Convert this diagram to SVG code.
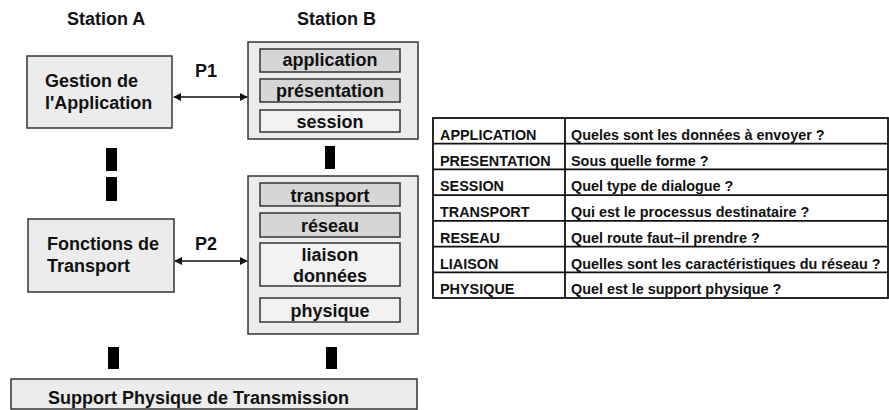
<svg xmlns="http://www.w3.org/2000/svg" width="889" height="410" viewBox="0 0 889 410">
  <style>
    text { font-family: "Liberation Sans", Arial, sans-serif; font-weight: bold; fill: #111; }
    .title { font-size: 18px; }
    .lbl { font-size: 18px; }
    .mid { text-anchor: middle; }
    .tbl { font-size: 14.4px; }
    .box { fill: #ececec; stroke: #333; stroke-width: 1.5; }
    .layer-dark { fill: #d6d6d6; stroke: #333; stroke-width: 1.5; }
    .layer-light { fill: #f2f2f2; stroke: #333; stroke-width: 1.5; }
    .bar { fill: #000; }
    .arrow { stroke: #111; stroke-width: 1.5; fill: none; marker-start: url(#head); marker-end: url(#head); }
    .rule { stroke: #111; stroke-width: 1.8; }
  </style>
  <defs>
    <marker id="head" viewBox="0 0 10 10" refX="9" refY="5" markerWidth="8" markerHeight="8" markerUnits="userSpaceOnUse" orient="auto-start-reverse">
      <path d="M0,0 L10,5 L0,10 z" fill="#111"/>
    </marker>
  </defs>
  <rect width="889" height="410" fill="#fff"/>

  <!-- column headings -->
  <text class="title" x="67" y="25">Station A</text>
  <text class="title" x="297" y="25">Station B</text>

  <!-- Station A, upper layers -->
  <g id="gestion">
    <rect class="box" x="27" y="56" width="145" height="72"/>
    <text class="lbl" x="45" y="87">Gestion de</text>
    <text class="lbl" x="45" y="109">l'Application</text>
  </g>

  <!-- Station B, upper layers -->
  <g id="stationB-haut">
    <rect class="box" x="248" y="42" width="170" height="97"/>
    <rect class="layer-dark" x="260" y="49" width="140" height="23"/>
    <text class="lbl mid" x="330" y="66">application</text>
    <rect class="layer-dark" x="260" y="79" width="140" height="23"/>
    <text class="lbl mid" x="330" y="97">présentation</text>
    <rect class="layer-light" x="260" y="110" width="140" height="22"/>
    <text class="lbl mid" x="330" y="128">session</text>
  </g>

  <!-- Station A, transport functions -->
  <g id="fonctions">
    <rect class="box" x="28" y="219" width="146" height="73"/>
    <text class="lbl" x="47" y="250">Fonctions de</text>
    <text class="lbl" x="47" y="272">Transport</text>
  </g>

  <!-- Station B, lower layers -->
  <g id="stationB-bas">
    <rect class="box" x="248" y="176" width="170" height="158"/>
    <rect class="layer-dark" x="260" y="183" width="140" height="23"/>
    <text class="lbl mid" x="330" y="202">transport</text>
    <rect class="layer-dark" x="260" y="213" width="140" height="24"/>
    <text class="lbl mid" x="330" y="232">réseau</text>
    <rect class="layer-light" x="260" y="243" width="140" height="43"/>
    <text class="lbl mid" x="330" y="261">liaison</text>
    <text class="lbl mid" x="330" y="282">données</text>
    <rect class="layer-light" x="260" y="298" width="140" height="24"/>
    <text class="lbl mid" x="330" y="317">physique</text>
  </g>

  <!-- physical medium -->
  <g id="support">
    <rect class="box" x="11" y="379" width="406" height="30"/>
    <text class="lbl" x="48" y="404">Support Physique de Transmission</text>
  </g>

  <!-- protocols and vertical links -->
  <g id="connecteurs">
    <line class="arrow" x1="174" y1="97" x2="247" y2="97"/>
    <text class="lbl" x="195" y="77">P1</text>
    <line class="arrow" x1="175" y1="261" x2="247" y2="261"/>
    <text class="lbl" x="195" y="250">P2</text>
    <rect class="bar" x="106" y="148" width="11" height="23"/>
    <rect class="bar" x="106" y="177" width="11" height="24"/>
    <rect class="bar" x="325" y="146" width="10" height="23"/>
    <rect class="bar" x="108" y="347" width="11" height="22"/>
    <rect class="bar" x="326" y="347" width="11" height="22"/>
  </g>

  <!-- layer questions table -->
  <g id="tableau">
    <rect x="433" y="118" width="455" height="180" fill="none" stroke="#111" stroke-width="1.8"/>
    <line class="rule" x1="565" y1="118" x2="565" y2="298"/>
    <line class="rule" x1="433" y1="143.7" x2="888" y2="143.7"/>
    <line class="rule" x1="433" y1="169.4" x2="888" y2="169.4"/>
    <line class="rule" x1="433" y1="195.1" x2="888" y2="195.1"/>
    <line class="rule" x1="433" y1="220.9" x2="888" y2="220.9"/>
    <line class="rule" x1="433" y1="246.6" x2="888" y2="246.6"/>
    <line class="rule" x1="433" y1="272.3" x2="888" y2="272.3"/>
    <text class="tbl" x="440" y="140">APPLICATION</text>
    <text class="tbl" x="571" y="140">Queles sont les données à envoyer ?</text>
    <text class="tbl" x="440" y="165.5">PRESENTATION</text>
    <text class="tbl" x="571" y="165.5">Sous quelle forme ?</text>
    <text class="tbl" x="440" y="191">SESSION</text>
    <text class="tbl" x="571" y="191">Quel type de dialogue ?</text>
    <text class="tbl" x="440" y="217">TRANSPORT</text>
    <text class="tbl" x="571" y="217">Qui est le processus destinataire ?</text>
    <text class="tbl" x="440" y="242.5">RESEAU</text>
    <text class="tbl" x="571" y="242.5">Quel route faut–il prendre ?</text>
    <text class="tbl" x="440" y="268.5">LIAISON</text>
    <text class="tbl" x="571" y="268.5">Quelles sont les caractéristiques du réseau ?</text>
    <text class="tbl" x="440" y="294">PHYSIQUE</text>
    <text class="tbl" x="571" y="294">Quel est le support physique ?</text>
  </g>
</svg>
